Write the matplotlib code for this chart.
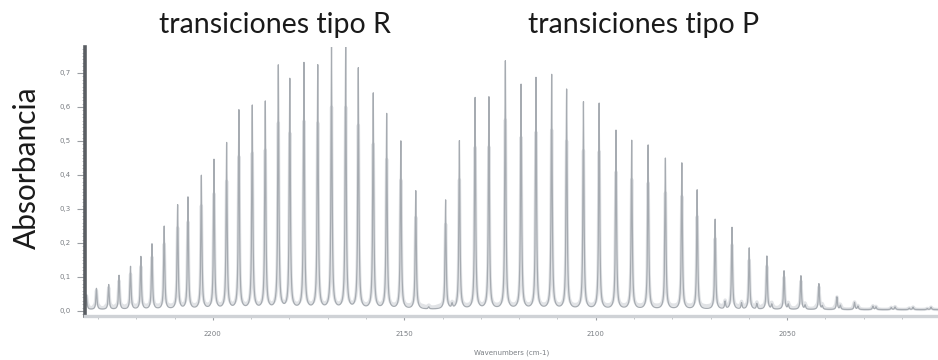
import numpy as np
import matplotlib.pyplot as plt
from matplotlib.ticker import MultipleLocator, FuncFormatter

# CO fundamental band: line centres (cm-1) and peak absorbance
rama_r_nu = [2233.0, 2230.4, 2227.2, 2224.5, 2221.5, 2218.8, 2215.9, 2212.7,
             2209.2, 2206.5, 2203.0, 2199.7, 2196.4, 2193.2, 2189.7, 2186.3,
             2182.9, 2179.9, 2176.2, 2172.6, 2169.0, 2165.3, 2162.0, 2158.1,
             2154.6, 2150.9, 2147.0]
rama_r_abs = [0.042, 0.062, 0.073, 0.100, 0.126, 0.155, 0.192, 0.244,
              0.307, 0.330, 0.393, 0.440, 0.488, 0.586, 0.599, 0.611,
              0.718, 0.677, 0.723, 0.718, 0.778, 0.778, 0.709, 0.635,
              0.574, 0.495, 0.348]

rama_p_nu = [2139.2, 2135.6, 2131.5, 2127.9, 2123.6, 2119.5, 2115.6, 2111.5,
             2107.6, 2103.2, 2099.1, 2094.7, 2090.6, 2086.3, 2081.8, 2077.5,
             2073.5, 2068.8, 2064.4, 2059.9, 2055.3, 2050.8, 2046.4, 2041.7,
             2037.0, 2032.4, 2027.6, 2022.8, 2018.1, 2013.4]
rama_p_abs = [0.321, 0.495, 0.623, 0.623, 0.730, 0.660, 0.681, 0.689,
              0.647, 0.609, 0.606, 0.526, 0.496, 0.483, 0.444, 0.431,
              0.351, 0.265, 0.241, 0.181, 0.157, 0.114, 0.099, 0.076,
              0.037, 0.021, 0.010, 0.006, 0.004, 0.003]

# weak lines (hot band) near the baseline
debiles_nu = [2143.6, 2137.5, 2066.2, 2061.9, 2057.9, 2054.0, 2049.7, 2045.3,
              2040.8, 2036.1, 2031.5, 2026.8, 2021.8, 2017.1, 2012.4]
debiles_abs = [0.006, 0.013, 0.022, 0.018, 0.016, 0.014, 0.014, 0.012,
               0.010, 0.012, 0.010, 0.008, 0.008, 0.007, 0.007]


def espectro(nu, centros, alturas, gamma):
    y = np.zeros_like(nu)
    for c, h in zip(centros, alturas):
        y += h * gamma**2 / ((nu - c)**2 + gamma**2)
    return y


centros = rama_r_nu + rama_p_nu + debiles_nu
alturas = rama_r_abs + rama_p_abs + debiles_abs

nu = np.linspace(2008, 2236, 12000)
y_fino = espectro(nu, centros, alturas, 0.16) + 0.004
y_ancho = espectro(nu, centros, alturas, 0.28) + 0.004

fig = plt.figure(figsize=(9.38, 3.6), dpi=100)
ax = fig.add_axes([0.0906, 0.122, 0.9094, 0.747])

ax.plot(nu, np.minimum(y_ancho, y_fino * 0.75 + 0.01), color='#e1e3e6', lw=2.4)
ax.plot(nu, y_fino, color='#a6abb1', lw=0.9)

ax.set_xlim(2233.4, 2010.6)
ax.set_ylim(-0.015, 0.776)

for s in ['top', 'right']:
    ax.spines[s].set_visible(False)
ax.spines['left'].set_color('#5a5e63')
ax.spines['left'].set_linewidth(2.6)
ax.spines['bottom'].set_color('#cfd2d6')
ax.spines['bottom'].set_linewidth(2.4)

ax.xaxis.set_major_locator(MultipleLocator(50))
ax.xaxis.set_minor_locator(MultipleLocator(10))
ax.yaxis.set_major_locator(MultipleLocator(0.1))
ax.yaxis.set_minor_locator(MultipleLocator(0.01))
ax.yaxis.set_major_formatter(FuncFormatter(lambda v, p: f'{v:.1f}'.replace('.', ',')))
ax.tick_params(axis='both', which='major', labelsize=5, colors='#9a9ea3',
               labelcolor='#7a7e83', length=6, width=0.8, pad=4)
ax.tick_params(axis='both', which='minor', colors='#b5b9bd', length=2.5, width=0.6)
ax.tick_params(axis='x', which='major', length=3, pad=8)

ax.set_xlabel('Wavenumbers (cm-1)', fontsize=5, color='#7a7e83', labelpad=9)

fig.text(0.0288, 0.533, 'Absorbancia', rotation=90, ha='center', va='center',
         fontsize=21.5, family='Lato', color='#1a1a1a')
fig.text(0.293, 0.908, 'transiciones tipo R', ha='center', va='baseline',
         fontsize=20.5, family='Lato', color='#1a1a1a')
fig.text(0.6866, 0.908, 'transiciones tipo P', ha='center', va='baseline',
         fontsize=20.5, family='Lato', color='#1a1a1a')

fig.savefig('out.png', dpi=100)
